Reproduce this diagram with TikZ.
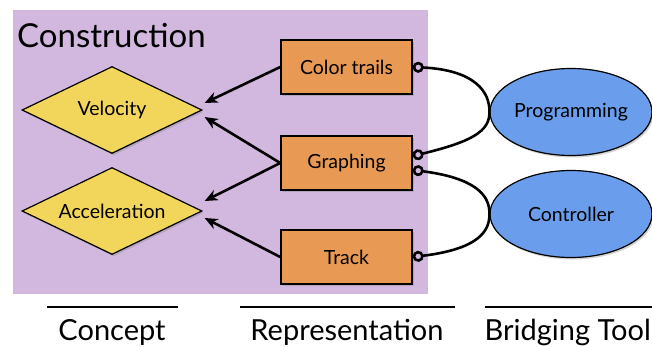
\documentclass[tikz,border=0pt]{standalone}
\usepackage{fontspec}
\setmainfont{Lato}
\usetikzlibrary{shapes.geometric,arrows.meta,shadows,calc}
\definecolor{ConstrBg}{RGB}{210,184,222}
\definecolor{ConceptFill}{RGB}{242,214,92}
\definecolor{ReprFill}{RGB}{232,154,85}
\definecolor{ToolFill}{RGB}{106,158,236}
\tikzset{%
	% Style of the shadow
	Shade/.style={drop shadow={opacity=0.35,shadow xshift=1.5pt,shadow yshift=-2pt}},
	% Style of the concept node
	Concept/.style={diamond,aspect=2,draw=black,line width=1.2pt,fill=ConceptFill,inner sep=0,
		minimum width=180pt,minimum height=87pt,font=\fontsize{19.5}{22}\selectfont,Shade},
	% Style of the representation node
	Repr/.style={rectangle,draw=black,line width=1.5pt,fill=ReprFill,
		minimum width=131pt,minimum height=54pt,font=\fontsize{19.5}{22}\selectfont,Shade},
	% Style of the bridging tool node
	Tool/.style={ellipse,draw=black,line width=1.2pt,fill=ToolFill,inner sep=0,
		minimum width=162pt,minimum height=87pt,font=\fontsize{19.5}{22}\selectfont,Shade},
	% Style of the column heading
	Heading/.style={font=\fontsize{29}{33}\selectfont,anchor=base},
	% Style of the arrow
	Arrow/.style={line width=2.6pt,-{Stealth[length=13pt,width=11pt,inset=4pt]}},
	% Style of the link to a tool
	Link/.style={line width=2.6pt,{Circle[open,length=11pt,width=11pt]}-},
}

\begin{document}
\begin{tikzpicture}[x=1pt,y=-1pt]
\useasboundingbox (0,0) rectangle (652,346);

%~~~~~~~~~~~~~~~~~~~~~~~~~~~~~~~~~~~~~~~~~~~~~~~~~~
% Construction area
%~~~~~~~~~~~~~~~~~~~~~~~~~~~~~~~~~~~~~~~~~~~~~~~~~~
\fill[ConstrBg] (13,10) rectangle (428,294);
\node[anchor=base west,inner sep=0,font=\fontsize{33}{37}\selectfont] (Title) at (17,47) {Construction};

%~~~~~~~~~~~~~~~~~~~~~~~~~~~~~~~~~~~~~~~~~~~~~~~~~~
% Set Nodes
%~~~~~~~~~~~~~~~~~~~~~~~~~~~~~~~~~~~~~~~~~~~~~~~~~~
\node[Concept] (V) at (112,110) {Velocity};
\node[Concept] (A) at (112,211) {Acceleration};

\node[Repr] (CT) at (346.5,67) {Color trails};
\node[Repr] (G) at (346.5,163) {Graphing};
\node[Repr] (T) at (346.5,257) {Track};

\node[Tool] (P) at (571,112) {Programming};
\node[Tool] (C) at (571,214) {Controller};

%~~~~~~~~~~~~~~~~~~~~~~~~~~~~~~~~~~~~~~~~~~~~~~~~~~
% Set Branches
%~~~~~~~~~~~~~~~~~~~~~~~~~~~~~~~~~~~~~~~~~~~~~~~~~~
%Representations to concepts
\draw[Arrow] (CT.west) -- ($ (V.east) + (2,-7) $);
\draw[Arrow] (G.west) -- ($ (V.east) + (2,7) $);
\draw[Arrow] (G.west) -- ($ (A.east) + (2,-10) $);
\draw[Arrow] (T.west) -- ($ (A.east) + (2,7) $);

%Representations to bridging tools
\draw[Link] (CT.east) .. controls (475,70) and (490,92) .. (P.west);
\draw[Link] (G.6) .. controls (470,142) and (490,132) .. (P.west);
\draw[Link] (G.-6) .. controls (475,178) and (490,195) .. (C.west);
\draw[Link] (T.east) .. controls (470,250) and (490,236) .. (C.west);

%~~~~~~~~~~~~~~~~~~~~~~~~~~~~~~~~~~~~~~~~~~~~~~~~~~
% Column headings
%~~~~~~~~~~~~~~~~~~~~~~~~~~~~~~~~~~~~~~~~~~~~~~~~~~
\draw[line width=2pt] (47,307) -- (178,307);
\draw[line width=2pt] (240,307) -- (455,307);
\draw[line width=2pt] (485,307) -- (652,307);
\node[Heading] (H1) at (112,340) {Concept};
\node[Heading] (H2) at (347,340) {Representation};
\node[Heading,anchor=base east,inner sep=0] (H3) at (651,340) {Bridging Tool};

\end{tikzpicture}
\end{document}
